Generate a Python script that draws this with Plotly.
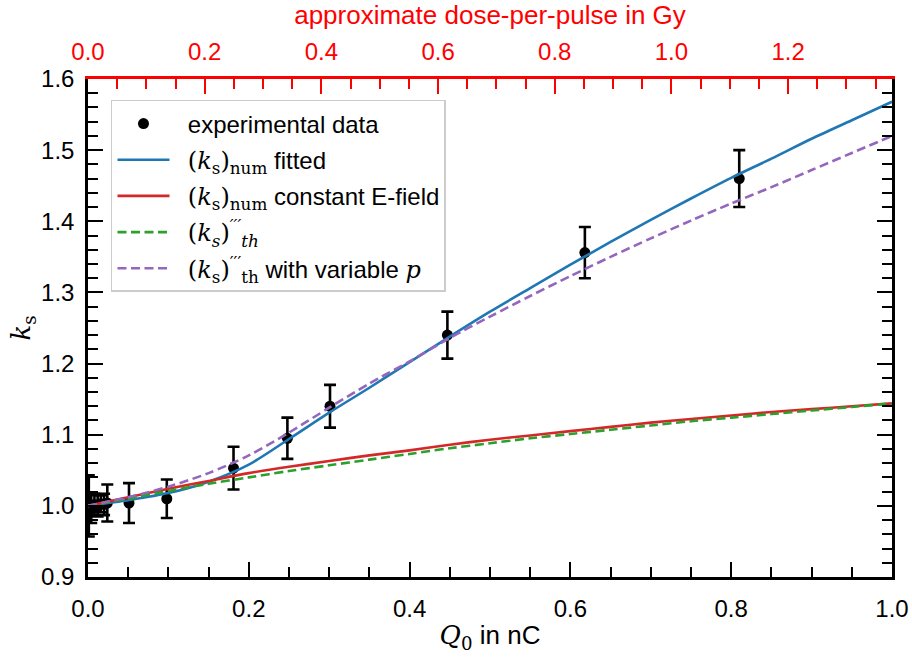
import plotly.graph_objects as go

# Measured correction factor k_s versus charge per pulse Q0 (nC)
q_exp = [0.001, 0.004, 0.008, 0.012, 0.016, 0.020, 0.024, 0.051, 0.098, 0.181, 0.248, 0.301, 0.447, 0.618, 0.810]
ks_exp = [1.000, 0.996, 1.002, 1.000, 1.003, 1.002, 1.004, 1.004, 1.010, 1.053, 1.095, 1.140, 1.240, 1.356, 1.460]
ks_err = [0.043, 0.020, 0.015, 0.015, 0.012, 0.015, 0.026, 0.028, 0.027, 0.030, 0.029, 0.030, 0.033, 0.036, 0.040]

# Model curves sampled on a common Q0 grid
q_grid = [0.0, 0.025, 0.05, 0.1, 0.15, 0.2, 0.25, 0.3, 0.35, 0.4, 0.45, 0.5,
          0.55, 0.6, 0.65, 0.7, 0.75, 0.8, 0.85, 0.9, 0.95, 1.0]
ks_num_fitted = [1.000, 1.004, 1.008, 1.018, 1.034, 1.058, 1.094, 1.131, 1.166, 1.202, 1.238, 1.273,
                 1.306, 1.339, 1.371, 1.402, 1.432, 1.461, 1.488, 1.516, 1.542, 1.568]
ks_num_const = [1.000, 1.006, 1.012, 1.024, 1.035, 1.046, 1.055, 1.063, 1.071, 1.078, 1.086, 1.093,
                1.099, 1.105, 1.111, 1.117, 1.122, 1.127, 1.132, 1.136, 1.140, 1.144]
ks_th = [1.000, 1.005, 1.010, 1.021, 1.031, 1.040, 1.049, 1.057, 1.065, 1.073, 1.081, 1.088,
         1.095, 1.101, 1.107, 1.113, 1.119, 1.124, 1.129, 1.134, 1.139, 1.144]
ks_th_var_p = [1.000, 1.006, 1.012, 1.027, 1.046, 1.071, 1.103, 1.138, 1.172, 1.203, 1.236, 1.266,
               1.295, 1.323, 1.350, 1.376, 1.401, 1.425, 1.448, 1.472, 1.496, 1.520]

# Approximate dose per pulse (Gy) corresponding to Q0 = 1 nC
dose_per_nC = 1.378

SANS = "Liberation Sans, Arial, sans-serif"
SERIF = "font-family:'DejaVu Serif', 'Liberation Serif', serif"
FS = 24        # tick labels and legend
FS_LABEL = 26  # axis titles


def m(s):
    return f'<span style="{SERIF}">{s}</span>'


PRIMES = "′′′"
PAD = "\u00a0\u00a0"  # small gap between legend symbol and text

fig = go.Figure()

fig.add_trace(go.Scatter(
    x=q_exp, y=ks_exp, mode="markers", name=PAD + "experimental data", legendgroup="g1",
    marker=dict(color="black", size=11),
    error_y=dict(type="data", array=ks_err, color="black", thickness=2.6, width=6),
))
fig.add_trace(go.Scatter(
    x=q_grid, y=ks_num_fitted, mode="lines", line_shape="spline", legendgroup="g2",
    name=PAD + m("(<i>k</i><sub>s</sub>)<sub>num</sub>") + " fitted",
    line=dict(color="#1f77b4", width=2.6, smoothing=0.8),
))
fig.add_trace(go.Scatter(
    x=q_grid, y=ks_num_const, mode="lines", line_shape="spline", legendgroup="g3",
    name=PAD + m("(<i>k</i><sub>s</sub>)<sub>num</sub>") + " constant E-field",
    line=dict(color="#d62728", width=2.6, smoothing=0.8),
))
fig.add_trace(go.Scatter(
    x=q_grid, y=ks_th, mode="lines", line_shape="spline", legendgroup="g4",
    name=PAD + m("(<i>k</i><sub><i>s</i></sub>)<sup><i>" + PRIMES + "</i></sup><sub><i>th</i></sub>"),
    line=dict(color="#2ca02c", width=2.6, dash="9px,4.5px", smoothing=0.8),
))
fig.add_trace(go.Scatter(
    x=q_grid, y=ks_th_var_p, mode="lines", line_shape="spline", legendgroup="g5",
    name=PAD + m("(<i>k</i><sub>s</sub>)<sup>" + PRIMES + "</sup><sub>th</sub>") + " with variable " + m("<i>p</i>"),
    line=dict(color="#9467bd", width=2.6, dash="9px,4.5px", smoothing=0.8),
))
# invisible trace carrying the dose axis
fig.add_trace(go.Scatter(
    x=[0, dose_per_nC], y=[None, None], xaxis="x2", showlegend=False,
    hoverinfo="skip", mode="lines",
))

tick_font = dict(family=SANS, size=FS, color="black")

fig.update_layout(
    width=912, height=661,
    margin=dict(l=88, r=20, t=79, b=84, autoexpand=False),
    paper_bgcolor="white", plot_bgcolor="white",
    font=dict(family=SANS, size=FS, color="black"),
    showlegend=True,
    legend=dict(
        x=0.0286, y=0.958, xanchor="left", yanchor="top",
        bgcolor="white", bordercolor="#cccccc", borderwidth=1.5,
        font=dict(family=SANS, size=FS, color="black"),
        itemwidth=52, tracegroupgap=2,
    ),
    xaxis=dict(
        range=[0, 1], dtick=0.2, tickformat=".1f", automargin=False,
        showgrid=False, zeroline=False,
        showline=True, linecolor="black", linewidth=2.5, mirror=False,
        ticks="inside", ticklen=15, tickwidth=2, tickcolor="black",
        minor=dict(dtick=0.05, ticks="inside", ticklen=10, tickwidth=1.5, tickcolor="black"),
        tickfont=tick_font, ticklabelstandoff=8,
        title=dict(text=m("<i>Q</i><sub>0</sub>") + " in nC", font=dict(size=FS_LABEL), standoff=6),
    ),
    xaxis2=dict(
        overlaying="x", side="top", anchor="y", automargin=False,
        range=[0, dose_per_nC], dtick=0.2, tickformat=".1f",
        showgrid=False, zeroline=False,
        showline=True, linecolor="red", linewidth=2.5,
        ticks="inside", ticklen=15, tickwidth=2, tickcolor="red",
        minor=dict(dtick=0.05, ticks="inside", ticklen=10, tickwidth=1.5, tickcolor="red"),
        tickfont=dict(family=SANS, size=FS, color="red"), ticklabelstandoff=7,
        title=dict(text="approximate dose-per-pulse in Gy", font=dict(size=FS_LABEL, color="red"), standoff=7),
    ),
    yaxis=dict(
        range=[0.9, 1.6], dtick=0.1, tickformat=".1f", automargin=False,
        showgrid=False, zeroline=False,
        showline=True, linecolor="black", linewidth=2.5, mirror="ticks",
        ticks="inside", ticklen=15, tickwidth=2, tickcolor="black",
        minor=dict(dtick=0.02, ticks="inside", ticklen=10, tickwidth=1.5, tickcolor="black"),
        tickfont=tick_font, ticklabelstandoff=6,
        title=dict(text=m("<i>k</i><sub>s</sub>"), font=dict(size=FS_LABEL), standoff=3),
    ),
)

fig.write_html("out.html")
